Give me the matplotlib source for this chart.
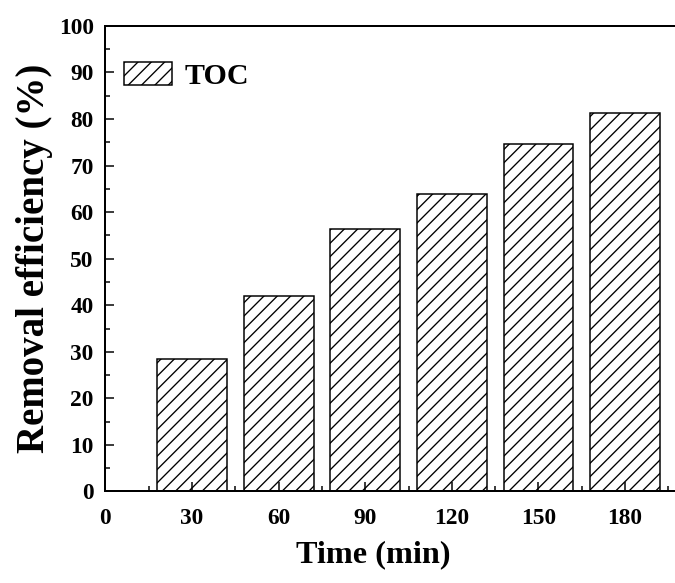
import matplotlib
matplotlib.use('Agg')
import matplotlib.pyplot as plt

# data
times = [30, 60, 90, 120, 150, 180]
toc_removal = [28.4, 42.0, 56.3, 63.9, 74.6, 81.2]
xtick_vals = [0, 30, 60, 90, 120, 150, 180]
ytick_vals = [0, 10, 20, 30, 40, 50, 60, 70, 80, 90, 100]

plt.rcParams['font.family'] = 'Liberation Serif'
plt.rcParams['font.weight'] = 'bold'
plt.rcParams['hatch.linewidth'] = 1.2
plt.rcParams['hatch.color'] = 'black'

fig = plt.figure(figsize=(675/80, 583/80), dpi=80)
ax = fig.add_axes([0.1561, 0.157, 0.8439, 0.7985])

ax.bar(times, toc_removal, width=24.2, color='white', edgecolor='black',
       linewidth=1.35, hatch='//', label='TOC')

ax.set_xlim(0, 197.3)
ax.set_ylim(0, 100)
ax.set_xticks(xtick_vals)
ax.set_xticks([15 + 30*i for i in range(7)], minor=True)
ax.set_yticks(ytick_vals)
ax.set_yticks([5 + 10*i for i in range(10)], minor=True)

for lab in ax.get_xticklabels() + ax.get_yticklabels():
    lab.set_fontweight('bold')
ax.tick_params(which='both', direction='in', width=1.35, labelsize=21)
ax.tick_params(axis='x', which='both', pad=15)
ax.tick_params(axis='y', which='both', pad=10.5)
ax.tick_params(which='major', length=8)
ax.tick_params(which='minor', length=4.5)

for s in ['left', 'bottom', 'top']:
    ax.spines[s].set_linewidth(1.8)
ax.spines['right'].set_visible(False)

ax.set_xlabel('Time (min)', fontsize=29, fontweight='bold')
ax.set_ylabel('Removal efficiency (%)', fontsize=35, fontweight='bold')
ax.xaxis.set_label_coords(0.471, -0.104)
ax.yaxis.set_label_coords(-0.092, 0.5)

ax.legend(loc='center left', bbox_to_anchor=(0.0327, 0.892), frameon=False,
          handlelength=1.6, handleheight=0.8, handletextpad=0.43,
          borderpad=0, borderaxespad=0, prop={'weight': 'bold', 'size': 27})

fig.savefig('out.png', dpi=80)
